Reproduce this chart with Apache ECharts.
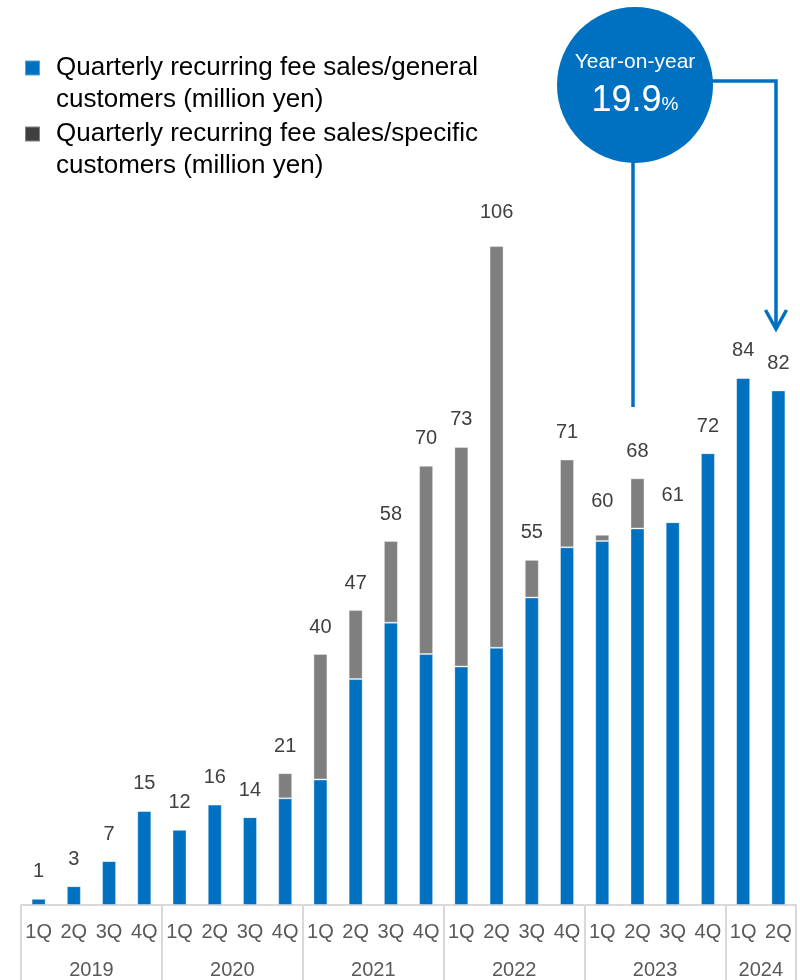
<!DOCTYPE html>
<html>
<head>
<meta charset="utf-8">
<script src="https://cdn.jsdelivr.net/npm/echarts@6/dist/echarts.min.js"></script>
<style>html,body{margin:0;padding:0;background:#fff;}#c{width:800px;height:980px;}</style>
</head>
<body>
<div id="c"></div>
<script>
const quarters = ['1Q','2Q','3Q','4Q','1Q','2Q','3Q','4Q','1Q','2Q','3Q','4Q','1Q','2Q','3Q','4Q','1Q','2Q','3Q','4Q','1Q','2Q'];
const years = ['2019','2020','2021','2022','2023','2024'];
const quartersPerYear = [4,4,4,4,4,2];
const generalSales = [1,3,7,15,12,16,14,17,20,36,45,40,38,41,49,57,58,60,61,72,84,82];
const specificSales = [0,0,0,0,0,0,0,4,20,11,13,30,35,64,6,14,1,8,0,0,0,0];
const totalLabels = [1,3,7,15,12,16,14,21,40,47,58,70,73,106,55,71,60,68,61,72,84,82];
const seriesNames = ['Quarterly recurring fee sales/general\ncustomers (million yen)','Quarterly recurring fee sales/specific\ncustomers (million yen)'];
const yoyTitle = 'Year-on-year';
const yoyValue = '19.9';

const FONT = "'Liberation Sans', Arial, sans-serif";
const BLUE = '#0070C0', GRAY = '#7F7F7F';

// year boundaries & centers (in quarter units)
const yearBounds = [0];
const yearCenters = [];
quartersPerYear.forEach((n, i) => { yearCenters.push(yearBounds[i] + n / 2); yearBounds.push(yearBounds[i] + n); });

const chart = echarts.init(document.getElementById('c'), null, {renderer: 'canvas'});
const option = {
  animation: false,
  backgroundColor: '#fff',
  textStyle: {fontFamily: FONT},
  legend: {
    orient: 'vertical', left: 24, top: 20, padding: 0, itemGap: -30,
    itemWidth: 15, itemHeight: 15, icon: 'rect',
    data: [
      {name: seriesNames[0], itemStyle: {color: BLUE}},
      {name: seriesNames[1], itemStyle: {color: '#404040'}}
    ],
    formatter: name => '\n' + name,
    textStyle: {fontFamily: FONT, fontSize: 26, color: '#000', lineHeight: 32, padding: [0, 0, 0, 11]}
  },
  grid: {left: 21, right: 4, top: 152, bottom: 74},
  xAxis: [
    {
      type: 'category', data: quarters, position: 'bottom',
      axisLine: {show: true, lineStyle: {color: '#D9D9D9', width: 2}},
      axisTick: {show: false},
      axisLabel: {interval: 0, fontFamily: FONT, fontSize: 20, color: '#595959', margin: 17}
    },
    {
      type: 'value', min: 0, max: yearBounds[yearBounds.length - 1], position: 'bottom',
      axisLine: {show: false},
      splitLine: {show: false},
      axisTick: {show: true, customValues: yearBounds, length: 80, lineStyle: {color: '#D9D9D9', width: 2}},
      axisLabel: {
        customValues: yearCenters, fontFamily: FONT, fontSize: 20, color: '#595959', margin: 55,
        formatter: v => { const i = yearCenters.indexOf(v); return i >= 0 ? years[i] : ''; }
      }
    }
  ],
  yAxis: {type: 'value', min: 0, max: 120, show: false, splitLine: {show: false}},
  series: [
    {
      name: seriesNames[0], type: 'bar', stack: 's', barWidth: 14, data: generalSales,
      itemStyle: {color: BLUE, borderColor: 'rgba(255,255,255,0.35)', borderWidth: 1}
    },
    {
      name: seriesNames[1], type: 'bar', stack: 's', barWidth: 14, data: specificSales,
      itemStyle: {color: GRAY, borderColor: 'rgba(255,255,255,0.35)', borderWidth: 1}
    },
    {
      name: 'total', type: 'bar', barWidth: 14, barGap: '-100%', data: totalLabels, z: 1,
      itemStyle: {color: 'rgba(0,0,0,0)'}, silent: true,
      label: {show: true, position: 'top', distance: 17, fontFamily: FONT, fontSize: 20, color: '#404040'}
    }
  ],
  graphic: [
    {type: 'line', shape: {x1: 633, y1: 160, x2: 633, y2: 407}, style: {stroke: BLUE, lineWidth: 3.5}},
    {type: 'polyline', shape: {points: [[710, 81], [776, 81], [776, 328]]}, style: {stroke: BLUE, lineWidth: 3.5, fill: null}},
    {type: 'polyline', shape: {points: [[765.5, 310], [776, 329], [786.5, 310]]}, style: {stroke: BLUE, lineWidth: 3.5, fill: null}},
    {type: 'circle', shape: {cx: 635, cy: 85, r: 78}, style: {fill: BLUE}},
    {type: 'text', x: 635, y: 62, style: {text: yoyTitle, fill: '#fff', font: '21px ' + FONT, align: 'center', verticalAlign: 'middle'}},
    {type: 'text', x: 635, y: 101, style: {
      text: '{a|' + yoyValue + '}{b|%}', align: 'center', verticalAlign: 'middle',
      rich: {a: {fontSize: 36, fontFamily: FONT, fill: '#fff', color: '#fff'}, b: {fontSize: 19, fontFamily: FONT, fill: '#fff', color: '#fff', padding: [8, 0, 0, 0]}}
    }}
  ]
};
chart.setOption(option);
</script>
</body>
</html>
